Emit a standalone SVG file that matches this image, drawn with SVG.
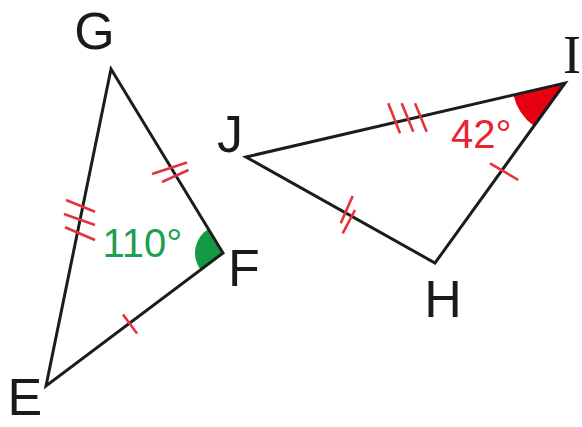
<svg xmlns="http://www.w3.org/2000/svg" width="582" height="427" viewBox="0 0 582 427">
  <style>
    .side { fill: none; stroke: #1c1c1c; stroke-width: 3; stroke-linejoin: miter; }
    .tick { stroke: #e5323e; stroke-width: 2.6; stroke-linecap: butt; fill: none; }
    .lbl { font-family: "Liberation Sans", Arial, sans-serif; font-size: 52px; fill: #1a1a1a; }
    .lbls { font-family: "Liberation Serif", "Times New Roman", serif; font-size: 54px; fill: #1a1a1a; }
    .ang { font-family: "Liberation Sans", Arial, sans-serif; font-size: 40px; }
  </style>
  <rect width="582" height="427" fill="#ffffff"/>

  <g id="triangle-EFG">
    <path d="M223,253 L200.6,269.8 A28,28 0 0 1 208.4,229.1 Z" fill="#149a45"/>
    <polygon class="side" points="111,69 223,253 46,386"/>
    <g id="ticks-GE">
      <line class="tick" x1="66" y1="200" x2="95" y2="211.7"/>
      <line class="tick" x1="64" y1="214" x2="95" y2="225"/>
      <line class="tick" x1="65" y1="227.3" x2="95" y2="240"/>
    </g>
    <g id="ticks-GF">
      <line class="tick" x1="152" y1="174" x2="187" y2="162.5"/>
      <line class="tick" x1="162" y1="182" x2="188.5" y2="170"/>
    </g>
    <g id="ticks-EF">
      <line class="tick" x1="123" y1="314.5" x2="137" y2="333.5"/>
    </g>
    <text class="ang" x="102.6" y="257" fill="#1e9e50">110°</text>
    <text id="label-G" class="lbl" x="94.5" y="49" text-anchor="middle">G</text>
    <text id="label-F" class="lbl" x="228" y="286">F</text>
    <text id="label-E" class="lbl" x="7.5" y="415">E</text>
  </g>

  <g id="triangle-HIJ">
    <path d="M565,83 L534,126 A53,53 0 0 1 513.4,95 Z" fill="#e60012"/>
    <polygon class="side" points="246,157 565,83 435,263"/>
    <g id="ticks-JI">
      <line class="tick" x1="388.3" y1="103.3" x2="400" y2="133.3"/>
      <line class="tick" x1="401.7" y1="103.3" x2="413.3" y2="131.7"/>
      <line class="tick" x1="415" y1="103.3" x2="426.7" y2="131.7"/>
    </g>
    <g id="ticks-JH">
      <line class="tick" x1="352.7" y1="196" x2="340.7" y2="223.3"/>
      <line class="tick" x1="355" y1="210" x2="342.7" y2="233.3"/>
    </g>
    <g id="ticks-HI">
      <line class="tick" x1="490" y1="163.3" x2="518.3" y2="180"/>
    </g>
    <text class="ang" x="451" y="148" fill="#e52530">42°</text>
    <text id="label-J" class="lbl" x="217" y="152">J</text>
    <text id="label-H" class="lbl" x="443" y="317" text-anchor="middle">H</text>
    <text id="label-I" class="lbls" x="563" y="73">I</text>
  </g>
</svg>
